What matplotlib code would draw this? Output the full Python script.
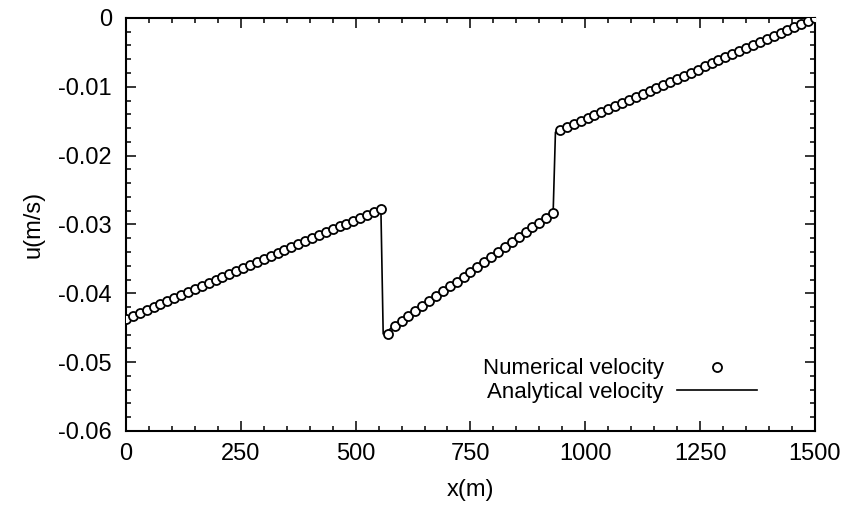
import numpy as np
import matplotlib
matplotlib.use('Agg')
import matplotlib.pyplot as plt
from matplotlib.ticker import MultipleLocator

plt.rcParams['font.family'] = ['Liberation Sans', 'DejaVu Sans']
plt.rcParams['axes.unicode_minus'] = False

# analytical solution (piecewise linear with two jumps)
x_exact = [0, 555, 560, 930, 935, 1500]
u_exact = [-0.0437, -0.0277, -0.0459, -0.0283, -0.0166, 0.0]

# numerical solution, every 15 m
x_num = np.arange(0, 1501, 15)
u_num = [
    -0.04370, -0.04327, -0.04284, -0.04240, -0.04197, -0.04154, -0.04111,
    -0.04067, -0.04024, -0.03981, -0.03938, -0.03894, -0.03851, -0.03808,
    -0.03765, -0.03721, -0.03678, -0.03635, -0.03592, -0.03548, -0.03505,
    -0.03462, -0.03419, -0.03375, -0.03332, -0.03289, -0.03246, -0.03202,
    -0.03159, -0.03116, -0.03073, -0.03029, -0.02986, -0.02943, -0.02900,
    -0.02856, -0.02813, -0.02770,
    -0.04590, -0.04471, -0.04400, -0.04328, -0.04257, -0.04186, -0.04114,
    -0.04043, -0.03972, -0.03900, -0.03829, -0.03758, -0.03686, -0.03615,
    -0.03544, -0.03472, -0.03401, -0.03330, -0.03258, -0.03187, -0.03116,
    -0.03044, -0.02973, -0.02902, -0.02830,
    -0.01631, -0.01587, -0.01542, -0.01498, -0.01454, -0.01410, -0.01366,
    -0.01322, -0.01278, -0.01234, -0.01190, -0.01146, -0.01102, -0.01058,
    -0.01014, -0.00970, -0.00925, -0.00881, -0.00837, -0.00793, -0.00749,
    -0.00705, -0.00661, -0.00617, -0.00573, -0.00529, -0.00485, -0.00441,
    -0.00397, -0.00353, -0.00308, -0.00264, -0.00220, -0.00176, -0.00132,
    -0.00088, -0.00044, 0.00000,
]

x_ticks = [0, 250, 500, 750, 1000, 1250, 1500]
y_ticks = [0, -0.01, -0.02, -0.03, -0.04, -0.05, -0.06]
y_tick_labels = ['0', '-0.01', '-0.02', '-0.03', '-0.04', '-0.05', '-0.06']

fig = plt.figure(figsize=(8.46, 5.19), dpi=100)
ax = fig.add_axes([0.1489, 0.1696, 0.8144, 0.7958])

ax.plot(x_num, u_num, 'o', ms=6.5, mfc='white', mec='black', mew=1.3,
        label='Numerical velocity', zorder=3)
ax.plot(x_exact, u_exact, '-', color='black', lw=1.2,
        label='Analytical velocity', zorder=2)

ax.set_xlim(0, 1500)
ax.set_ylim(-0.06, 0)
ax.set_xticks(x_ticks)
ax.set_xticklabels([str(v) for v in x_ticks])
ax.set_yticks(y_ticks)
ax.set_yticklabels(y_tick_labels)
ax.xaxis.set_minor_locator(MultipleLocator(50))
ax.yaxis.set_minor_locator(MultipleLocator(0.002))
ax.tick_params(which='both', direction='in', top=True, right=True,
               labelsize=17, width=1.1)
ax.tick_params(which='major', length=7)
ax.tick_params(which='minor', length=3.5)
ax.tick_params(axis='x', pad=9)
ax.tick_params(axis='y', pad=10)
for s in ax.spines.values():
    s.set_linewidth(1.5)

ax.set_xlabel('x(m)', fontsize=17, labelpad=10)
ax.set_ylabel('u(m/s)', fontsize=17, labelpad=10)

ax.legend(loc='lower right', bbox_to_anchor=(0.945, 0.02), markerfirst=False,
          frameon=False, handlelength=3.6, fontsize=16, labelspacing=0.1,
          handletextpad=0.6)

plt.savefig('out.png', dpi=100)
